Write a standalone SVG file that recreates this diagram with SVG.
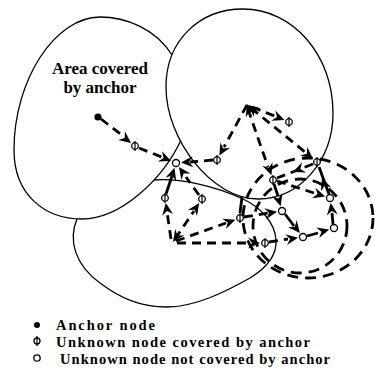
<svg xmlns="http://www.w3.org/2000/svg" xmlns:xlink="http://www.w3.org/1999/xlink" width="375" height="375" viewBox="0 0 375 375">
<style>
.area{fill:none;stroke:#000;stroke-width:1.3}
.range{fill:none;stroke:#000;stroke-width:2.8;stroke-dasharray:11 7}
.dl{fill:none;stroke:#000;stroke-width:2.8;stroke-dasharray:9 6}
.sl{fill:none;stroke:#000;stroke-width:2.8}
.nd{fill:#fff;stroke:#000;stroke-width:1.3}
.bar{stroke:#000;stroke-width:1.2}
.t{font-family:"Liberation Serif","Times New Roman",serif;font-weight:bold;font-size:17px;fill:#000}
.lg{font-family:"Liberation Serif","Times New Roman",serif;font-weight:bold;font-size:14.5px;fill:#000}
</style>
<defs>
<path id="ah" d="M0,0 L-12,-5.5 L-8,0 L-12,5.5 Z" fill="#000"/>
<g id="unk"><circle r="3.3" class="nd"/><line x1="0" y1="-5" x2="0" y2="5" class="bar"/></g>
<circle id="unc" r="3.5" class="nd"/>
</defs>
<rect width="375" height="375" fill="#fff"/>
<g id="areas">
<path id="area1" class="area" d="M172,55 C155,28 125,17 100,17 C55,17 14,80 14,150 C14,195 45,219 82,219 C120,219 163,180 182,138"/>
<path id="area2" class="area" style="fill:#fff" d="M243,9 C293,9 333,55 333,113 C333,160 300,199 258,199 C212,199 166,140 166,87 C166,40 200,9 243,9 Z"/>
<path id="area3" class="area" d="M77,219 C68,240 75,265 100,283 C120,298 140,307 167,307 C195,307 225,292 250,278 C268,267 277,255 276,240 C275,222 260,207 243,199 C215,186 180,178 154,180"/>
</g>
<g id="ranges">
<ellipse class="range" cx="308" cy="218" rx="65" ry="60"/>
<circle class="range" cx="300" cy="226" r="47"/>
</g>
<text class="t" x="100" y="74" text-anchor="middle">Area covered</text>
<text class="t" x="100" y="93" text-anchor="middle">by anchor</text>
<g id="connectors">
<line class="dl" x1="101" y1="119" x2="123" y2="136"/>
<use xlink:href="#ah" transform="translate(131,143) rotate(38)"/>
<line class="dl" x1="139" y1="148" x2="164" y2="158"/>
<use xlink:href="#ah" transform="translate(171,161) rotate(22.5)"/>
<line class="dl" x1="213" y1="160" x2="190" y2="162"/>
<use xlink:href="#ah" transform="translate(181,162.6) rotate(176)"/>
<line class="dl" x1="247" y1="105" x2="224" y2="147"/>
<use xlink:href="#ah" transform="translate(219.4,155.6) rotate(118.6)"/>
<line class="dl" x1="251" y1="108" x2="305" y2="152"/>
<use xlink:href="#ah" transform="translate(313,158.8) rotate(39.2)"/>
<line class="dl" x1="248" y1="109" x2="268" y2="167"/>
<use xlink:href="#ah" transform="translate(271.4,175.3) rotate(70.9)"/>
<line class="dl" x1="252" y1="107" x2="277" y2="117"/>
<use xlink:href="#ah" transform="translate(284.4,120.1) rotate(22)"/>
<use xlink:href="#ah" transform="translate(247,104) rotate(250.9)"/>
<use xlink:href="#ah" transform="translate(248,105) rotate(219.2)"/>
<line class="sl" x1="166" y1="194" x2="172" y2="176"/>
<use xlink:href="#ah" transform="translate(174.5,167.8) rotate(-72.6)"/>
<line class="dl" x1="199" y1="195" x2="186" y2="177"/>
<use xlink:href="#ah" transform="translate(178.9,167.1) rotate(234.2)"/>
<line class="dl" x1="171" y1="239" x2="167" y2="212"/>
<use xlink:href="#ah" transform="translate(165.8,203) rotate(261.2)"/>
<line class="dl" x1="175" y1="239" x2="194" y2="211"/>
<use xlink:href="#ah" transform="translate(199.2,203.1) rotate(-55.7)"/>
<use xlink:href="#ah" transform="translate(173,242) rotate(124.3)"/>
<line class="dl" x1="176" y1="241" x2="226" y2="223"/>
<use xlink:href="#ah" transform="translate(235.3,219.7) rotate(-20.2)"/>
<line class="dl" x1="177" y1="243" x2="250" y2="243"/>
<use xlink:href="#ah" transform="translate(260,243) rotate(0)"/>
<line class="sl" x1="242" y1="197" x2="240" y2="213"/>
<line class="dl" x1="244" y1="217" x2="268" y2="213"/>
<use xlink:href="#ah" transform="translate(277,211.8) rotate(-9.5)"/>
<line class="sl" x1="274" y1="184" x2="278" y2="196"/>
<use xlink:href="#ah" transform="translate(280.6,206.2) rotate(73.8)"/>
<line class="sl" x1="285" y1="214" x2="294" y2="226"/>
<use xlink:href="#ah" transform="translate(299.9,233.1) rotate(51.1)"/>
<line class="dl" x1="269" y1="242" x2="288" y2="239"/>
<use xlink:href="#ah" transform="translate(298,237.8) rotate(-9)"/>
<line class="sl" x1="307" y1="236" x2="318" y2="233"/>
<use xlink:href="#ah" transform="translate(329.2,229.4) rotate(-16.2)"/>
<line class="sl" x1="333" y1="224" x2="332" y2="213"/>
<use xlink:href="#ah" transform="translate(330.7,203) rotate(262.4)"/>
<line class="sl" x1="329" y1="194" x2="319" y2="167"/>
<use xlink:href="#ah" transform="translate(322,178) rotate(250.1)"/>
<line class="dl" x1="313" y1="164" x2="277" y2="178"/>
<use xlink:href="#ah" transform="translate(293,172) rotate(157.8)"/>
<line class="dl" x1="277" y1="181" x2="314" y2="193"/>
<use xlink:href="#ah" transform="translate(325.2,196.5) rotate(17.5)"/>
</g>
<g id="anchor"><circle cx="98" cy="117" r="3.6" fill="#000"/></g>
<g id="n1"><use xlink:href="#unk" x="135" y="146"/></g>
<g id="n2"><use xlink:href="#unc" x="176" y="163"/></g>
<g id="n3"><use xlink:href="#unk" x="217" y="160"/></g>
<g id="n15"><use xlink:href="#unk" x="289" y="122"/></g>
<g id="n9"><use xlink:href="#unk" x="317" y="162"/></g>
<g id="n8"><use xlink:href="#unk" x="273" y="180"/></g>
<g id="n4"><use xlink:href="#unk" x="165" y="198"/></g>
<g id="n5"><use xlink:href="#unk" x="202" y="199"/></g>
<g id="n6"><use xlink:href="#unk" x="240" y="218"/></g>
<g id="n7"><use xlink:href="#unk" x="265" y="243"/></g>
<g id="n14"><use xlink:href="#unc" x="282" y="211"/></g>
<g id="n13"><use xlink:href="#unc" x="303" y="237"/></g>
<g id="n12"><use xlink:href="#unc" x="334" y="228"/></g>
<g id="n11"><use xlink:href="#unc" x="330" y="198"/></g>
<g id="legend">
<circle cx="37" cy="325" r="3" fill="#000"/>
<text class="lg" x="56" y="330" textLength="99" lengthAdjust="spacing">Anchor node</text>
<g><circle cx="37" cy="341" r="3" class="nd"/><line x1="37" y1="336" x2="37" y2="346" class="bar"/></g>
<text class="lg" x="56" y="347" textLength="254" lengthAdjust="spacing">Unknown node covered by anchor</text>
<circle cx="37" cy="358" r="3.2" class="nd"/>
<text class="lg" x="60" y="364" textLength="270" lengthAdjust="spacing">Unknown node not covered by anchor</text>
</g>
</svg>
